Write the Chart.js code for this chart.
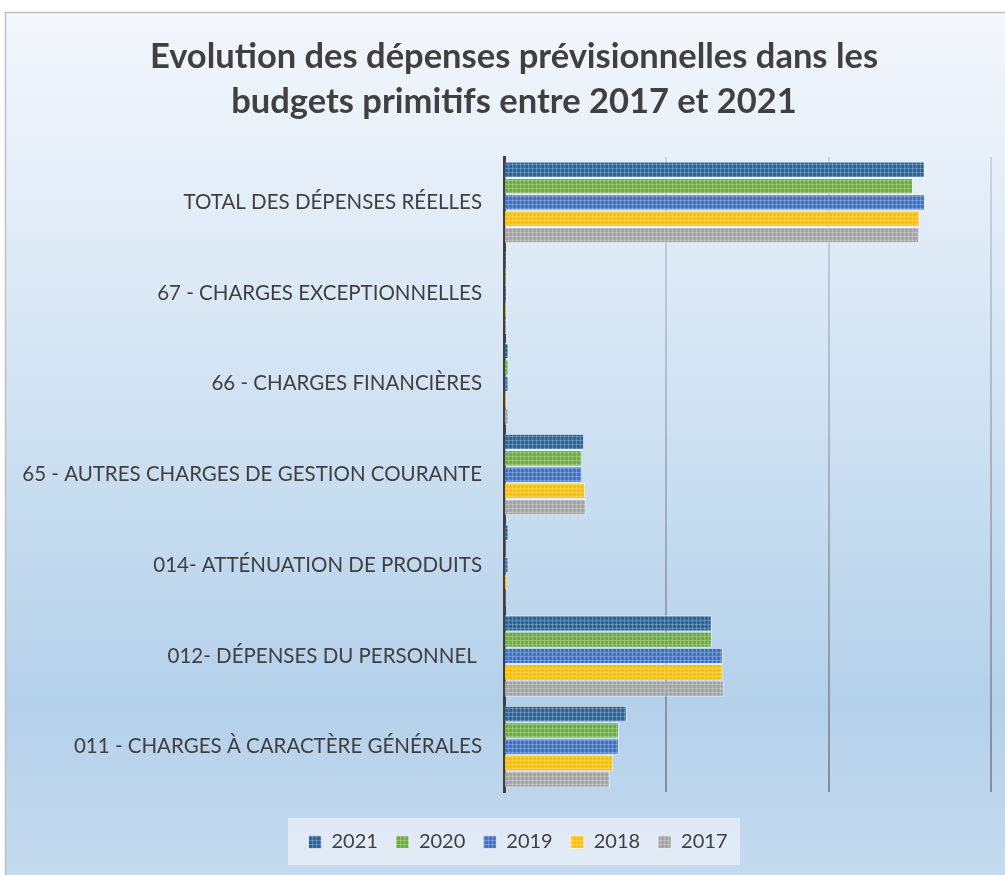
<!DOCTYPE html>
<html>
<head>
<meta charset="utf-8">
<script src="https://cdn.jsdelivr.net/npm/chart.js@4.4.1/dist/chart.umd.min.js"></script>
<style>
  html, body { margin: 0; padding: 0; background: #ffffff; }
  #wrap { width: 1005px; height: 875px; }
</style>
</head>
<body>
<div id="wrap"><canvas id="myChart"></canvas></div>
<script>
// categories, top to bottom as shown
var categories = [
    'TOTAL DES DÉPENSES RÉELLES',
    '67 - CHARGES EXCEPTIONNELLES',
    '66 - CHARGES FINANCIÈRES',
    '65 - AUTRES CHARGES DE GESTION COURANTE',
    '014- ATTÉNUATION DE PRODUITS',
    '012- DÉPENSES DU PERSONNEL ',
    '011 - CHARGES À CARACTÈRE GÉNÉRALES'
];
var years = ['2021', '2020', '2019', '2018', '2017'];
// values (unit = 1/5 of a gridline step)
var v2021 = [12.96, 0.08, 0.14, 2.47, 0.14, 6.40, 3.78];
var v2020 = [12.60, 0.08, 0.14, 2.41, 0.05, 6.40, 3.54];
var v2019 = [12.97, 0.08, 0.14, 2.41, 0.14, 6.74, 3.54];
var v2018 = [12.80, 0.08, 0.08, 2.50, 0.11, 6.74, 3.36];
var v2017 = [12.79, 0.08, 0.14, 2.53, 0.05, 6.77, 3.26];
var xTicks = [0, 5, 10, 15];

var colors = ['#2e6496', '#70ad47', '#4472c4', '#ffc000', '#a5a5a5'];

function makePattern(base) {
    var c = document.createElement('canvas');
    c.width = 4; c.height = 4;
    var g = c.getContext('2d');
    g.fillStyle = base;
    g.fillRect(0, 0, 4, 4);
    g.fillStyle = 'rgba(255,255,255,0.22)';
    g.fillRect(0, 0, 4, 1);
    g.fillRect(0, 0, 1, 4);
    g.fillStyle = 'rgba(0,0,0,0.05)';
    g.fillRect(2, 2, 1, 1);
    return document.getElementById('myChart').getContext('2d').createPattern(c, 'repeat');
}

var series = [v2021, v2020, v2019, v2018, v2017];
var datasets = series.map(function (d, i) {
    return {
        label: years[i],
        data: d,
        backgroundColor: makePattern(colors[i]),
        borderColor: 'rgba(255,255,255,0.55)',
        borderWidth: 1,
        categoryPercentage: 0.9,
        barPercentage: 1.0
    };
});

var bgPlugin = {
    id: 'bg',
    afterLayout: function (chart) {
        // title and legend sit a bit right of centre in the original
        var lg = chart.legend;
        if (lg) { lg.left += 20; lg.right += 20; }
        var tb = chart.titleBlock;
        if (tb) { tb.left += 16; tb.right += 16; }
    },
    beforeDraw: function (chart) {
        var ctx = chart.ctx;
        var w = chart.width, h = chart.height;
        ctx.save();
        ctx.fillStyle = '#ffffff';
        ctx.fillRect(0, 0, w, h);
        var grad = ctx.createLinearGradient(0, 12, 0, h);
        grad.addColorStop(0, '#f4f7fc');
        grad.addColorStop(0.35, '#d9e7f5');
        grad.addColorStop(0.8, '#b4d1ea');
        grad.addColorStop(1, '#c4daef');
        ctx.fillStyle = grad;
        ctx.fillRect(5, 12, w, h);
        ctx.strokeStyle = '#c0c0c0';
        ctx.lineWidth = 1.5;
        ctx.beginPath();
        ctx.moveTo(5.5, h);
        ctx.lineTo(5.5, 12.5);
        ctx.lineTo(w, 12.5);
        ctx.stroke();
        // legend frame
        ctx.fillStyle = 'rgba(232,239,248,0.8)';
        ctx.fillRect(288, 818, 452, 47);
        ctx.restore();
    }
};

function gridColor(c) {
    var a = c.chart.chartArea;
    if (!a) return '#8e9cab';
    var g = c.chart.ctx.createLinearGradient(0, a.top, 0, a.bottom);
    g.addColorStop(0, 'rgba(170,180,195,0.45)');
    g.addColorStop(1, '#7f8d9c');
    return g;
}

var ctx = document.getElementById('myChart').getContext('2d');
var myChart = new Chart(ctx, {
    type: 'bar',
    data: { labels: categories, datasets: datasets },
    plugins: [bgPlugin],
    options: {
        indexAxis: 'y',
        responsive: true,
        maintainAspectRatio: false,
        animation: false,
        layout: { padding: { left: 5, right: 14, top: 14, bottom: 13 } },
        plugins: {
            title: {
                display: true,
                text: ['Evolution des dépenses prévisionnelles dans les', 'budgets primitifs entre 2017 et 2021'],
                color: '#404040',
                font: { family: 'Lato', size: 34.5, weight: 'bold', lineHeight: 1.32 },
                padding: { top: 20, bottom: 32 }
            },
            legend: {
                position: 'bottom',
                labels: {
                    color: '#404040',
                    font: { family: 'Lato', size: 20 },
                    boxWidth: 13,
                    boxHeight: 13,
                    padding: 18
                }
            },
            tooltip: { enabled: false }
        },
        scales: {
            x: {
                min: xTicks[0],
                max: xTicks[xTicks.length - 1],
                afterBuildTicks: function (s) { s.ticks = xTicks.map(function (v) { return { value: v }; }); },
                afterFit: function (s) { s.height = 22; },
                ticks: { display: false },
                grid: { color: gridColor, lineWidth: 2, drawTicks: false },
                border: { display: false }
            },
            y: {
                afterFit: function (s) { s.width = 499; },
                ticks: { color: '#404040', font: { family: 'Lato', size: 20.5 }, padding: 22 },
                grid: { display: false, drawTicks: false },
                border: { color: '#404040', width: 3 }
            }
        }
    }
});
</script>
</body>
</html>
